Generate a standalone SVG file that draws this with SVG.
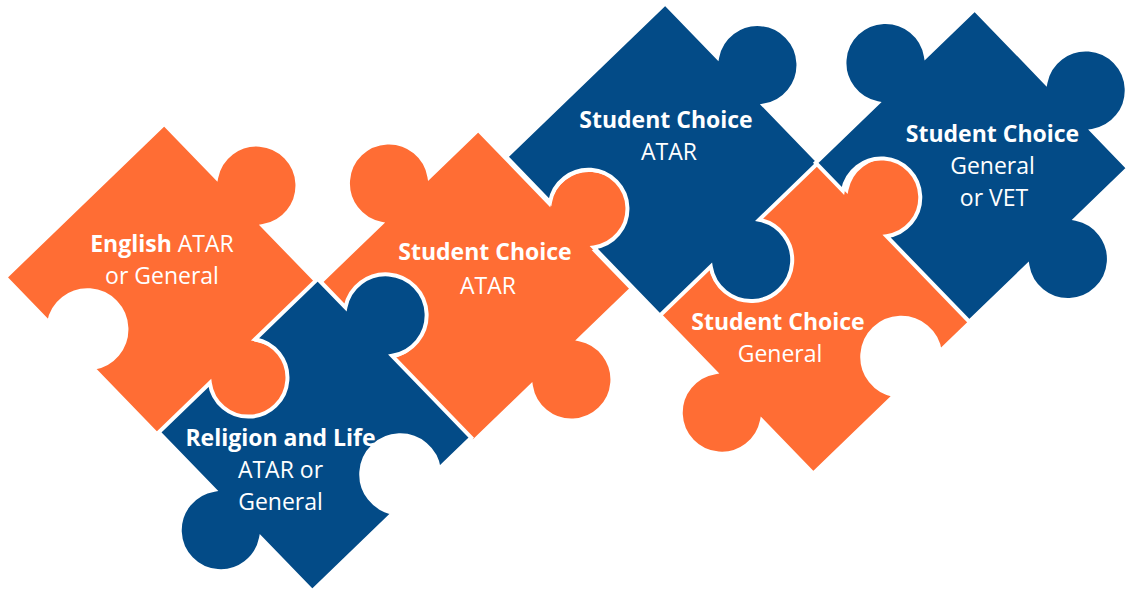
<svg xmlns="http://www.w3.org/2000/svg" width="1126" height="591" viewBox="0 0 1126 591">
<style>
.or{fill:#FF6D34}
.bl{fill:#034B87}
.pc{stroke:#ffffff;stroke-width:4;stroke-linejoin:miter}
text{font-family:"Open Sans","Noto Sans","Liberation Sans",sans-serif;font-size:23px;fill:#ffffff;text-anchor:middle;font-weight:400}
.b{font-weight:700}
</style>
<defs>
<path id="shapeA" d="M -110.5 -110.5 L -35.65 -110.5 A 41 41 0 1 1 31.65 -110.5 L 110.5 -110.5 L 110.5 -27.65 A 41 41 0 1 1 110.5 39.65 L 110.5 110.5 L 15.5 110.5 A 39 39 0 1 0 -47.5 110.5 L -110.5 110.5 Z"/>
<path id="shapeB" d="M -110.5 -110.5 L -70.65 -110.5 A 41 41 0 1 1 -3.35 -110.5 L 110.5 -110.5 L 110.5 -65.5 A 39 39 0 1 0 110.5 -2.5 L 110.5 110.5 L 36.65 110.5 A 41 41 0 1 1 -30.65 110.5 L -110.5 110.5 L -110.5 39.5 A 39 39 0 1 0 -110.5 -23.5 Z"/>
<path id="shapeC" d="M -110.5 -110.5 L -8.65 -110.5 A 41 41 0 1 1 58.65 -110.5 L 110.5 -110.5 L 110.5 -37.65 A 41 41 0 1 1 110.5 29.65 L 110.5 110.5 L -8.5 110.5 A 39 39 0 1 0 -71.5 110.5 L -110.5 110.5 L -110.5 24.65 A 41 41 0 1 1 -110.5 -42.65 Z"/>
</defs>
<rect width="1126" height="591" fill="#ffffff"/>
<g id="connectors"></g>
<g id="pieces">
<g id="english">
<use href="#shapeA" class="or pc" transform="translate(161.5 280) rotate(46)"/>
<text x="162" y="252"><tspan class="b">English</tspan> ATAR</text>
<text x="162" y="283.5">or General</text>
</g>
<g id="choice-atar-orange">
<use href="#shapeC" class="or pc" transform="translate(475.5 286) rotate(46)"/>
<text x="485" y="260" class="b">Student Choice</text>
<text x="488" y="293.5">ATAR</text>
</g>
<g id="choice-general-orange">
<use href="#shapeB" class="or pc" transform="translate(816 317.5) rotate(46)"/>
<text x="778" y="330" class="b">Student Choice</text>
<text x="780" y="361.5">General</text>
</g>
<g id="religion">
<use href="#shapeB" class="bl pc" transform="translate(315 435) rotate(46)"/>
<text x="280.5" y="446" class="b">Religion and Life</text>
<text x="280.5" y="478">ATAR or</text>
<text x="280.5" y="509.5">General</text>
</g>
<g id="choice-atar-blue">
<use href="#shapeA" class="bl pc" transform="translate(662.5 159.5) rotate(46)"/>
<text x="666" y="128" class="b">Student Choice</text>
<text x="669" y="159.5">ATAR</text>
</g>
<g id="choice-general-vet">
<use href="#shapeC" class="bl pc" transform="translate(972 165.5) rotate(46)"/>
<text x="992.5" y="142" class="b">Student Choice</text>
<text x="992.5" y="174">General</text>
<text x="994" y="205.5">or VET</text>
</g>
</g>
</svg>
